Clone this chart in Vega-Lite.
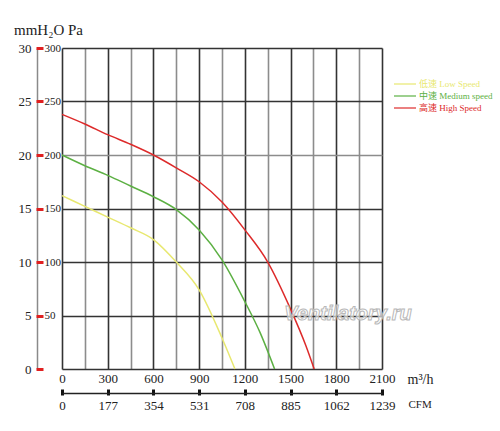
{
  "$schema": "https://vega.github.io/schema/vega-lite/v6.json",
  "width": 320,
  "height": 321,
  "autosize": {"type": "none"},
  "padding": {"left": 62, "top": 48, "right": 118, "bottom": 62},
  "background": "white",
  "config": {
    "view": {"stroke": null},
    "font": "Liberation Serif",
    "axis": {"labelFont": "Liberation Serif", "titleFont": "Liberation Serif", "labelColor": "#222", "titleColor": "#222", "labelOverlap": false, "labelFlush": false}
  },
  "title": {
    "text": "mmH₂O Pa",
    "anchor": "start",
    "frame": "group",
    "dx": -48,
    "dy": 25,
    "offset": 17,
    "baseline": "alphabetic",
    "font": "Liberation Serif",
    "fontSize": 15,
    "fontWeight": "normal",
    "color": "#222"
  },
  "data": {
    "values": [
      {"speed": "低速 Low Speed", "q": 0, "p": 162},
      {"speed": "低速 Low Speed", "q": 150, "p": 152},
      {"speed": "低速 Low Speed", "q": 300, "p": 142},
      {"speed": "低速 Low Speed", "q": 450, "p": 132},
      {"speed": "低速 Low Speed", "q": 600, "p": 121},
      {"speed": "低速 Low Speed", "q": 750, "p": 100},
      {"speed": "低速 Low Speed", "q": 900, "p": 74},
      {"speed": "低速 Low Speed", "q": 1050, "p": 29},
      {"speed": "低速 Low Speed", "q": 1135, "p": 0},
      {"speed": "中速 Medium speed", "q": 0, "p": 200},
      {"speed": "中速 Medium speed", "q": 150, "p": 190},
      {"speed": "中速 Medium speed", "q": 300, "p": 181},
      {"speed": "中速 Medium speed", "q": 450, "p": 171},
      {"speed": "中速 Medium speed", "q": 600, "p": 161},
      {"speed": "中速 Medium speed", "q": 750, "p": 149},
      {"speed": "中速 Medium speed", "q": 900, "p": 130},
      {"speed": "中速 Medium speed", "q": 1050, "p": 102},
      {"speed": "中速 Medium speed", "q": 1200, "p": 63},
      {"speed": "中速 Medium speed", "q": 1300, "p": 34},
      {"speed": "中速 Medium speed", "q": 1395, "p": 0},
      {"speed": "高速 High Speed", "q": 0, "p": 238},
      {"speed": "高速 High Speed", "q": 150, "p": 229},
      {"speed": "高速 High Speed", "q": 300, "p": 219},
      {"speed": "高速 High Speed", "q": 450, "p": 210},
      {"speed": "高速 High Speed", "q": 600, "p": 200},
      {"speed": "高速 High Speed", "q": 750, "p": 188},
      {"speed": "高速 High Speed", "q": 900, "p": 175},
      {"speed": "高速 High Speed", "q": 1050, "p": 156},
      {"speed": "高速 High Speed", "q": 1200, "p": 130},
      {"speed": "高速 High Speed", "q": 1350, "p": 100},
      {"speed": "高速 High Speed", "q": 1500, "p": 56},
      {"speed": "高速 High Speed", "q": 1600, "p": 22},
      {"speed": "高速 High Speed", "q": 1655, "p": 0}
    ]
  },
  "resolve": {"axis": {"x": "independent", "y": "independent"}},
  "layer": [
    {
      "mark": {"type": "line", "interpolate": "monotone", "strokeWidth": 1.5},
      "encoding": {
        "x": {
          "field": "q",
          "type": "quantitative",
          "scale": {"domain": [0, 2100], "nice": false},
          "axis": {
            "orient": "bottom",
            "values": [0, 150, 300, 450, 600, 750, 900, 1050, 1200, 1350, 1500, 1650, 1800, 1950, 2100],
            "grid": true,
            "gridColor": {"condition": {"test": "datum.value % 300 == 0", "value": "#333333"}, "value": "#8c8c8c"},
            "gridWidth": 1.6,
            "ticks": false,
            "domain": false,
            "format": "d",
            "labelExpr": "datum.value % 300 == 0 ? datum.label : ''",
            "labelPadding": 3,
            "labelFontSize": 13,
            "title": "m³/h",
            "titleX": 345,
            "titleY": 10,
            "titleAlign": "left",
            "titleBaseline": "middle",
            "titleFontSize": 14,
            "titleFontWeight": "normal"
          }
        },
        "y": {
          "field": "p",
          "type": "quantitative",
          "scale": {"domain": [0, 300], "nice": false},
          "axis": {
            "orient": "left",
            "values": [0, 50, 100, 150, 200, 250, 300],
            "grid": true,
            "gridColor": {"condition": {"test": "datum.value == 200", "value": "#8c8c8c"}, "value": "#333333"},
            "gridWidth": 1.6,
            "ticks": false,
            "domain": false,
            "labels": false,
            "title": null
          }
        },
        "color": {
          "field": "speed",
          "type": "nominal",
          "scale": {
            "domain": ["低速 Low Speed", "中速 Medium speed", "高速 High Speed"],
            "range": ["#e8e870", "#5cb043", "#dd2a2a"]
          },
          "legend": {
            "orient": "none",
            "legendX": 337,
            "legendY": 30,
            "padding": 0,
            "title": null,
            "symbolType": "M-2.2,0H2.2",
            "symbolSize": 100,
            "symbolStrokeWidth": 1.2,
            "labelFont": "Liberation Serif, Noto Sans CJK SC",
            "labelFontSize": 9,
            "labelOffset": 8,
            "rowPadding": 1,
            "encode": {
              "symbols": {"update": {"stroke": {"scale": "color", "field": "value"}, "fill": {"value": "transparent"}}},
              "labels": {"update": {"fill": {"scale": "color", "field": "value"}}}
            }
          }
        }
      }
    },
    {
      "mark": {"type": "point", "opacity": 0},
      "encoding": {
        "x": {
          "field": "q",
          "type": "quantitative",
          "axis": {
            "orient": "bottom",
            "offset": 20,
            "values": [0, 300, 600, 900, 1200, 1500, 1800, 2100],
            "grid": false,
            "domain": false,
            "ticks": true,
            "tickColor": "#111111",
            "tickWidth": 3,
            "tickSize": 6,
            "labelExpr": "format(datum.value / 300 * 177, 'd')",
            "labelPadding": 4,
            "labelFontSize": 13,
            "title": "CFM",
            "titleX": 346,
            "titleY": 15,
            "titleAlign": "left",
            "titleBaseline": "middle",
            "titleFontSize": 11,
            "titleFontWeight": "normal"
          }
        },
        "y": {
          "field": "p",
          "type": "quantitative",
          "axis": {
            "orient": "left",
            "offset": 25,
            "values": [0, 50, 100, 150, 200, 250, 300],
            "grid": false,
            "domain": true,
            "domainColor": "#8a8a8a",
            "domainWidth": 1.5,
            "ticks": false,
            "labelExpr": "format(datum.value / 10, 'd')",
            "labelPadding": 6,
            "labelFontSize": 13,
            "title": null
          }
        }
      }
    },
    {
      "mark": {"type": "point", "opacity": 0},
      "encoding": {
        "x": {
          "field": "q",
          "type": "quantitative",
          "axis": {
            "orient": "bottom",
            "offset": 24,
            "grid": false,
            "domain": true,
            "domainColor": "#222222",
            "domainWidth": 1.5,
            "ticks": false,
            "labels": false,
            "title": null
          }
        },
        "y": {
          "field": "p",
          "type": "quantitative",
          "axis": {
            "orient": "left",
            "offset": 19,
            "values": [0, 50, 100, 150, 200, 250, 300],
            "grid": false,
            "domain": false,
            "ticks": true,
            "tickColor": "#e02020",
            "tickWidth": 3,
            "tickSize": 7,
            "labelAlign": "left",
            "labelPadding": -8,
            "labelExpr": "datum.value == 0 ? '' : datum.label",
            "labelFontSize": 11,
            "title": null
          }
        }
      }
    },
    {
      "data": {"values": [{"mark": "Ventilatory.ru"}]},
      "mark": {
        "type": "text",
        "font": "Liberation Sans",
        "fontSize": 20,
        "fontStyle": "italic",
        "fontWeight": "bold",
        "fill": "white",
        "fillOpacity": 0.6,
        "stroke": "#b8b8b8",
        "strokeWidth": 1,
        "align": "center",
        "baseline": "middle"
      },
      "encoding": {
        "x": {"datum": 1877, "type": "quantitative", "axis": null},
        "y": {"datum": 51, "type": "quantitative", "axis": null},
        "text": {"field": "mark"}
      }
    }
  ]
}
